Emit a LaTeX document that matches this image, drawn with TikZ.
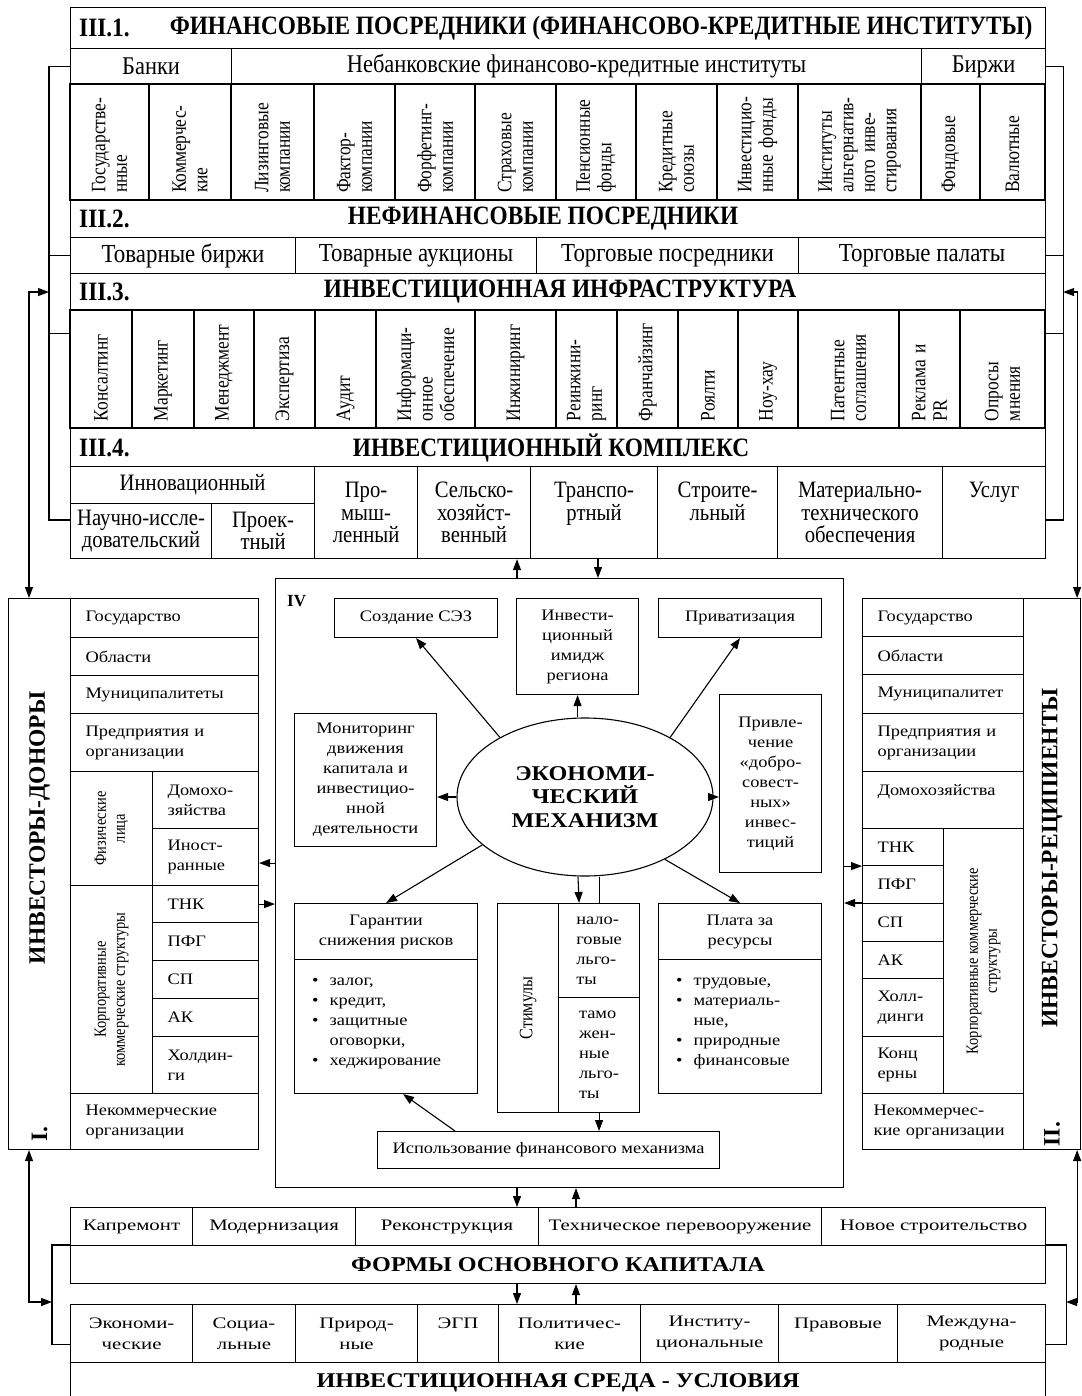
\documentclass[tikz,border=0pt]{standalone}
\usepackage{fontspec}
\setmainfont{Liberation Serif}
\newfontfamily\widefont[FakeStretch=1.15]{Liberation Serif}
\newfontfamily\lowfont[FakeStretch=1.3]{Liberation Serif}
\newfontfamily\narrowfont[FakeStretch=0.85]{Liberation Serif}
\newfontfamily\headfont[FakeStretch=0.88]{Liberation Serif}
\usepackage{tikz}
\usetikzlibrary{calc}
\usetikzlibrary{shapes.geometric, arrows.meta}
\tikzstyle{cell} = [rectangle, draw=black, line width=1.1pt, inner sep=0pt,
anchor=north west, align=center]
\tikzstyle{vcell} = [rectangle, draw=black, line width=1.1pt, rotate=90,
anchor=center, inner xsep=7pt, inner ysep=0pt, align=left,
font=\narrowfont\fontsize{20.5}{21.5}\selectfont]
\tikzstyle{vcellb} = [vcell, minimum width=116pt, text width=102pt]
\tikzstyle{vcelld} = [vcell, minimum width=118pt, text width=104pt]
\tikzstyle{rtext} = [rotate=90, inner sep=0pt, align=center,
font=\narrowfont\fontsize{17}{19}\selectfont]
\tikzstyle{head} = [inner sep=0pt, font=\headfont\bfseries\fontsize{26.5}{28}\selectfont]
\tikzstyle{rowa} = [font=\headfont\fontsize{25.5}{27}\selectfont]
\tikzstyle{rowc} = [font=\headfont\fontsize{26}{27}\selectfont]
\tikzstyle{rowe} = [font=\headfont\fontsize{23.5}{22.5}\selectfont]
\tikzstyle{inv} = [font=\widefont\fontsize{16}{20}\selectfont]
\tikzstyle{lcell} = [cell, inv, align=left, inner xsep=15pt]
\tikzstyle{low} = [font=\lowfont\fontsize{16}{21}\selectfont]
\tikzstyle{lowhead} = [font=\widefont\bfseries\fontsize{21}{23}\selectfont]
\tikzstyle{vlab} = [rotate=90, inner sep=0pt, font=\bfseries\fontsize{23.5}{26}\selectfont]
\tikzstyle{mechanism} = [ellipse, draw=black, line width=1.1pt,
minimum width=256pt, minimum height=158pt, inner sep=0pt, align=center,
font=\widefont\bfseries\fontsize{21}{23.5}\selectfont]
\tikzstyle{frame} = [line width=1.1pt]
\tikzstyle{arrow} = [line width=1.1pt, ->, >={Triangle[length=11pt, width=8pt]}]

\begin{document}
\begin{tikzpicture}[x=1pt, y=-1pt]
    \useasboundingbox (0,0) rectangle (1081,1396);

    % block III: intermediaries and infrastructure
    \node (h1) [cell, minimum width=975pt, minimum height=41pt] at (70,7) {};
    \node (h1no) [head, anchor=west] at ($(h1.west)+(9,0)$) {III.1.};
    \node (h1txt) [head] at ($(h1.center)+(43,0)$) {ФИНАНСОВЫЕ ПОСРЕДНИКИ (ФИНАНСОВО-КРЕДИТНЫЕ ИНСТИТУТЫ)};

    \node (banks) [cell, rowa, minimum width=161pt, minimum height=36pt] at (70,48) {Банки};
    \node (nonbank) [cell, rowa, minimum width=690pt, minimum height=36pt] at (231,48) {Небанковские финансово-кредитные институты};
    \node (exch) [cell, rowa, minimum width=124pt, minimum height=36pt] at (921,48) {Биржи};

    \node (stbank) [vcellb, minimum height=79pt] at (109.5,142) {Государстве-\\нные};
    \node (combank) [vcellb, minimum height=82pt] at (190,142) {Коммерчес-\\кие};
    \node (leasing) [vcellb, minimum height=83pt] at (272.5,142) {Лизинговые\\компании};
    \node (factor) [vcellb, minimum height=81pt] at (354.5,142) {Фактор-\\компании};
    \node (forfait) [vcellb, minimum height=80pt] at (435,142) {Форфетинг-\\компании};
    \node (insur) [vcellb, minimum height=81pt] at (515.5,142) {Страховые\\компании};
    \node (pension) [vcellb, minimum height=80pt] at (596,142) {Пенсионные\\фонды};
    \node (credit) [vcellb, minimum height=81pt] at (676.5,142) {Кредитные\\союзы};
    \node (invfund) [vcellb, minimum height=81pt] at (757.5,142) {Инвестицио-\\нные фонды};
    \node (altinv) [vcellb, minimum height=123pt] at (859.5,142) {Институты\\альтернатив-\\ного инве-\\стирования};
    \node (stockex) [vcellb, minimum height=59pt] at (950.5,142) {Фондовые};
    \node (currex) [vcellb, minimum height=65pt] at (1012.5,142) {Валютные};

    \node (h2) [cell, minimum width=975pt, minimum height=37pt] at (70,200) {};
    \node (h2no) [head, anchor=west] at ($(h2.west)+(9,0)$) {III.2.};
    \node (h2txt) [head] at ($(h2.center)+(-15,0)$) {НЕФИНАНСОВЫЕ ПОСРЕДНИКИ};

    \node (tovb) [cell, rowc, minimum width=225pt, minimum height=36pt] at (70,237) {Товарные биржи};
    \node (tova) [cell, rowc, minimum width=241pt, minimum height=36pt] at (295,237) {Товарные аукционы};
    \node (torgp) [cell, rowc, minimum width=262pt, minimum height=36pt] at (536,237) {Торговые посредники};
    \node (torgpal) [cell, rowc, minimum width=247pt, minimum height=36pt] at (798,237) {Торговые палаты};

    \node (h3) [cell, minimum width=975pt, minimum height=37pt] at (70,273) {};
    \node (h3no) [head, anchor=west] at ($(h3.west)+(9,0)$) {III.3.};
    \node (h3txt) [head] at ($(h3.center)+(2,0)$) {ИНВЕСТИЦИОННАЯ ИНФРАСТРУКТУРА};

    \node (consult) [vcelld, minimum height=62pt] at (101,369) {Консалтинг};
    \node (market) [vcelld, minimum height=62pt] at (163,369) {Маркетинг};
    \node (manage) [vcelld, minimum height=60pt] at (224,369) {Менеджмент};
    \node (expert) [vcelld, minimum height=61pt] at (284.5,369) {Экспертиза};
    \node (audit) [vcelld, minimum height=61pt] at (345.5,369) {Аудит};
    \node (infosup) [vcelld, minimum height=99pt] at (425.5,369) {Информаци-\\онное\\обеспечение};
    \node (engin) [vcelld, minimum height=81pt] at (515.5,369) {Инжиниринг};
    \node (reeng) [vcelld, minimum height=61pt] at (586.5,369) {Реинжини-\\ринг};
    \node (franch) [vcelld, minimum height=61pt] at (647.5,369) {Франчайзинг};
    \node (royal) [vcelld, minimum height=60pt] at (708,369) {Роялти};
    \node (knowhow) [vcelld, minimum height=60pt] at (768,369) {Ноу-хау};
    \node (patent) [vcelld, minimum height=101pt] at (848.5,369) {Патентные\\соглашения};
    \node (advert) [vcelld, minimum height=61pt] at (929.5,369) {Реклама и\\PR};
    \node (polls) [vcelld, minimum height=85pt] at (1002.5,369) {Опросы\\мнения};

    \node (h4) [cell, minimum width=975pt, minimum height=38pt] at (70,428) {};
    \node (h4no) [head, anchor=west] at ($(h4.west)+(9,0)$) {III.4.};
    \node (h4txt) [head] at ($(h4.center)+(-7,0)$) {ИНВЕСТИЦИОННЫЙ КОМПЛЕКС};

    \node (innov) [cell, rowe, minimum width=244pt, minimum height=37pt] at (70,466) {Инновационный};
    \node (nir) [cell, rowe, minimum width=141pt, minimum height=55pt] at (70,503) {Научно-иссле-\\довательский};
    \node (proj) [cell, rowe, minimum width=103pt, minimum height=55pt] at (211,503) {Проек-\\тный};
    \node (prom) [cell, rowe, minimum width=103pt, minimum height=92pt] at (314,466) {Про-\\мыш-\\ленный};
    \node (selh) [cell, rowe, minimum width=113pt, minimum height=92pt] at (417,466) {Сельско-\\хозяйст-\\венный};
    \node (transp) [cell, rowe, minimum width=127pt, minimum height=92pt] at (530,466) {Транспо-\\ртный\\~};
    \node (stroi) [cell, rowe, minimum width=120pt, minimum height=92pt] at (657,466) {Строите-\\льный\\~};
    \node (mat) [cell, rowe, minimum width=165pt, minimum height=92pt] at (777,466) {Материально-\\технического\\обеспечения};
    \node (uslug) [cell, rowe, minimum width=103pt, minimum height=92pt] at (942,466) {Услуг\\~\\~};

    % block I: donors
    \node (donlab) [cell, minimum width=62pt, minimum height=551pt] at (8,598) {};
    \node (dontxt) [vlab] at ($(donlab.north)+(0,230)$) {ИНВЕСТОРЫ-ДОНОРЫ};
    \node (donno) [vlab] at ($(donlab.south)+(0,-16)$) {I.};
    \node (dgov) [lcell, text width=158pt, minimum height=39pt] at (70,598) {Государство};
    \node (dreg) [lcell, text width=158pt, minimum height=38pt] at (70,637) {Области};
    \node (dmun) [lcell, text width=158pt, minimum height=38pt] at (70,675) {Муниципалитеты};
    \node (dent) [lcell, text width=158pt, minimum height=58pt] at (70,713) {Предприятия и\\организации};
    \node (dphys) [cell, minimum width=82pt, minimum height=114pt] at (70,771) {};
    \node (dphystxt) [rtext] at (dphys.center) {Физические\\лица};
    \node (dhh) [lcell, text width=76pt, minimum height=57pt] at (152,771) {Домохо-\\зяйства};
    \node (dfor) [lcell, text width=76pt, minimum height=57pt] at (152,828) {Иност-\\ранные};
    \node (dcorp) [cell, minimum width=82pt, minimum height=208pt] at (70,885) {};
    \node (dcorptxt) [rtext] at (dcorp.center) {Корпоративные\\коммерческие структуры};
    \node (dtnk) [lcell, text width=76pt, minimum height=37pt] at (152,885) {ТНК};
    \node (dpfg) [lcell, text width=76pt, minimum height=38pt] at (152,922) {ПФГ};
    \node (dsp) [lcell, text width=76pt, minimum height=38pt] at (152,960) {СП};
    \node (dak) [lcell, text width=76pt, minimum height=38pt] at (152,998) {АК};
    \node (dhold) [lcell, text width=76pt, minimum height=57pt] at (152,1036) {Холдин-\\ги};
    \node (dnco) [lcell, text width=158pt, minimum height=56pt] at (70,1093) {Некоммерческие\\организации};

    % block II: recipients
    \node (reclab) [cell, minimum width=57pt, minimum height=551pt] at (1023,598) {};
    \node (rectxt) [vlab] at ($(reclab.north)+(0,260)$) {ИНВЕСТОРЫ-РЕЦИПИЕНТЫ};
    \node (recno) [vlab] at ($(reclab.south)+(0,-16)$) {II.};
    \node (rgov) [lcell, text width=131pt, minimum height=38pt] at (862,598) {Государство};
    \node (rreg) [lcell, text width=131pt, minimum height=38pt] at (862,636) {Области};
    \node (rmun) [lcell, text width=131pt, minimum height=39pt] at (862,674) {Муниципалитет};
    \node (rent) [lcell, text width=131pt, minimum height=58pt] at (862,713) {Предприятия и\\организации};
    \node (rhh) [lcell, text width=131pt, minimum height=57pt] at (862,771) {Домохозяйства\\~};
    \node (rtnk) [lcell, text width=51pt, minimum height=37pt] at (862,828) {ТНК};
    \node (rpfg) [lcell, text width=51pt, minimum height=38pt] at (862,865) {ПФГ};
    \node (rsp) [lcell, text width=51pt, minimum height=38pt] at (862,903) {СП};
    \node (rak) [lcell, text width=51pt, minimum height=37pt] at (862,941) {АК};
    \node (rhold) [lcell, text width=51pt, minimum height=58pt] at (862,978) {Холл-\\динги};
    \node (rconc) [lcell, text width=51pt, minimum height=57pt] at (862,1036) {Конц\\ерны};
    \node (rcorp) [cell, minimum width=80pt, minimum height=265pt] at (943,828) {};
    \node (rcorptxt) [rtext] at (rcorp.center) {Корпоративные коммерческие\\структуры};
    \node (rnco) [lcell, text width=139pt, inner xsep=11pt, minimum height=56pt] at (862,1093) {Некоммерчес-\\кие организации};

    % block IV: economic mechanism
    \node (mech) [cell, minimum width=568pt, minimum height=609pt] at (275,578) {};
    \node (ivno) [anchor=west, inner sep=0pt, font=\bfseries\fontsize{17}{19}\selectfont] at ($(mech.north west)+(12,23)$) {IV};
    \node (sez) [cell, inv, minimum width=163pt, minimum height=39pt] at (334,598) {Создание СЭЗ};
    \node (image) [cell, inv, minimum width=122pt, minimum height=96pt] at (516,598) {Инвести-\\ционный\\имидж\\региона};
    \node (priv) [cell, inv, minimum width=163pt, minimum height=39pt] at (658,598) {Приватизация};
    \node (monit) [cell, inv, minimum width=142pt, minimum height=133pt] at (294,713) {Мониторинг\\движения\\капитала и\\инвестицио-\\нной\\деятельности};
    \node (attr) [cell, inv, minimum width=102pt, minimum height=178pt] at (719,694) {Привле-\\чение\\«добро-\\совест-\\ных»\\инвес-\\тиций};
    \node (eco) [mechanism] at (585,797) {ЭКОНОМИ-\\ЧЕСКИЙ\\МЕХАНИЗМ};

    \node (guarh) [cell, inv, minimum width=183pt, minimum height=56pt] at (294,903) {Гарантии\\снижения рисков};
    \node (guarl) [cell, minimum width=183pt, minimum height=134pt] at (294,959) {};
    \node (guartxt) [inv, anchor=north west, inner sep=0pt] at ($(guarl.north west)+(18,12)$)
        {\begin{tabular}{@{}l@{\hspace{11pt}}l@{}}•&залог,\\•&кредит,\\•&защитные\\&оговорки,\\•&хеджирование\end{tabular}};
    \node (stimlab) [cell, minimum width=61pt, minimum height=209pt] at (497,903) {};
    \node (stimtxt) [rtext, font=\narrowfont\fontsize{19}{21}\selectfont] at (stimlab.center) {Стимулы};
    \node (stimtax) [cell, inv, align=left, minimum width=81pt, minimum height=94pt] at (558,903) {нало-\\говые\\льго-\\ты};
    \node (stimcus) [cell, inv, align=left, minimum width=81pt, minimum height=115pt] at (558,997) {тамо\\жен-\\ные\\льго-\\ты};
    \node (payh) [cell, inv, minimum width=163pt, minimum height=56pt] at (658,903) {Плата за\\ресурсы};
    \node (payl) [cell, minimum width=163pt, minimum height=134pt] at (658,959) {};
    \node (paytxt) [inv, anchor=north west, inner sep=0pt] at ($(payl.north west)+(18,12)$)
        {\begin{tabular}{@{}l@{\hspace{11pt}}l@{}}•&трудовые,\\•&материаль-\\&ные,\\•&природные\\•&финансовые\end{tabular}};
    \node (fin) [cell, inv, minimum width=342pt, minimum height=37pt] at (377,1131) {Использование финансового механизма};

    % forms of capital and environment
    \node (kap) [cell, low, minimum width=122pt, minimum height=38pt] at (70,1207) {Капремонт};
    \node (modern) [cell, low, minimum width=163pt, minimum height=38pt] at (192,1207) {Модернизация};
    \node (recon) [cell, low, minimum width=183pt, minimum height=38pt] at (355,1207) {Реконструкция};
    \node (tech) [cell, low, minimum width=283pt, minimum height=38pt] at (538,1207) {Техническое перевооружение};
    \node (newb) [cell, low, minimum width=224pt, minimum height=38pt] at (821,1207) {Новое строительство};
    \node (forms) [cell, lowhead, minimum width=975pt, minimum height=38pt] at (70,1245) {ФОРМЫ ОСНОВНОГО КАПИТАЛА};

    \node (econ) [cell, low, minimum width=122pt, minimum height=58pt] at (70,1304) {Экономи-\\ческие};
    \node (soc) [cell, low, minimum width=103pt, minimum height=58pt] at (192,1304) {Социа-\\льные};
    \node (nat) [cell, low, minimum width=122pt, minimum height=58pt] at (295,1304) {Природ-\\ные};
    \node (egp) [cell, low, minimum width=81pt, minimum height=58pt] at (417,1304) {ЭГП\\~};
    \node (polit) [cell, low, minimum width=142pt, minimum height=58pt] at (498,1304) {Политичес-\\кие};
    \node (inst) [cell, low, minimum width=138pt, minimum height=58pt] at (640,1304) {Институ-\\циональные};
    \node (legal) [cell, low, minimum width=119pt, minimum height=58pt] at (778,1304) {Правовые\\~};
    \node (intl) [cell, low, minimum width=148pt, minimum height=58pt] at (897,1304) {Междуна-\\родные};
    \node (env) [cell, lowhead, minimum width=975pt, minimum height=40pt] at (70,1362) {ИНВЕСТИЦИОННАЯ СРЕДА - УСЛОВИЯ};

    % the brackets
    \draw [frame] (banks.west) -- ++(-21,0) |- ($(nir.north west)+(0,17)$);
    \draw [frame] (tovb.west) -- ++(-21,0);
    \draw [frame] ($(h3.south west)+(0,22)$) -- ++(-21,0);
    \draw [frame] (exch.east) -- ++(17,0) |- ($(uslug.north east)+(0,54)$);
    \draw [frame] (torgpal.east) -- ++(17,0);
    \draw [frame] ($(h3.south east)+(0,22)$) -- ++(17,0);
    \draw [frame] ($(econ.west)+(0,11)$) -- ++(-18,0) |- (forms.north west);
    \draw [frame] ($(intl.east)+(0,11)$) -- ++(20,0) |- (forms.north east);

    % the connectors
    \coordinate (lhub) at ($(h3.west)+(-21,0)$);
    \coordinate (rhub) at ($(h3.east)+(17,0)$);
    \draw [arrow, <->] (lhub) -- ++(-20,0) -- ($(donlab.north west)+(21,0)$);
    \draw [arrow, <->] (rhub) -- ++(14,0) -- ($(reclab.north east)+(-4,0)$);
    \draw [arrow, <->] ($(donlab.south west)+(21,0)$) |- ($(econ.north west)+(-18,-2)$);
    \draw [arrow, <->] ($(reclab.south east)+(-4,0)$) |- ($(intl.north east)+(20,-2)$);

    \draw [arrow] ($(mech.north west)+(242,0)$) -- ($(selh.south west)+(100,0)$);
    \draw [arrow] ($(transp.south west)+(68,0)$) -- ($(mech.north west)+(323,0)$);
    \draw [arrow] ($(mech.south west)+(242,0)$) -- ($(recon.north west)+(162,0)$);
    \draw [arrow] ($(tech.north west)+(38,0)$) -- ($(mech.south west)+(301,0)$);
    \draw [arrow] ($(forms.south west)+(447,0)$) -- ($(polit.north west)+(19,0)$);
    \draw [arrow] ($(polit.north west)+(78,0)$) -- ($(forms.south west)+(506,0)$);

    \draw [arrow] ($(mech.west |- dfor.east)+(0,6)$) -- ($(dfor.east)+(0,6)$);
    \draw [arrow] (dtnk.east) -- (mech.west |- dtnk.east);
    \draw [arrow] (mech.east |- rtnk.south west) -- (rtnk.south west);
    \draw [arrow] (rsp.north west) -- (mech.east |- rsp.north west);

    \draw [arrow] (eco.145) -- (sez.south);
    \draw [arrow] (eco.north -| image.south) -- (image.south);
    \draw [arrow] (eco.35) -- (priv.south);
    \draw [arrow] (eco.west) -- (eco.west -| monit.east);
    \draw [arrow] (eco.east) -- (eco.east -| attr.west);
    \draw [arrow] (eco.205) -- (guarh.north);
    \draw [arrow] (eco.-38) -- (payh.north);
    \draw [arrow] ($(eco.south)+(-7,0)$) -- ($(stimtax.north)+(-20,0)$);
    \draw [frame] (eco.south -| stimtax.north) -- (stimtax.north);
    \draw [arrow] (stimcus.south) -- (stimcus.south |- fin.north);
    \draw [arrow] ($(fin.north west)+(78,0)$) -- ($(guarl.south)+(17,0)$);

\end{tikzpicture}
\end{document}
